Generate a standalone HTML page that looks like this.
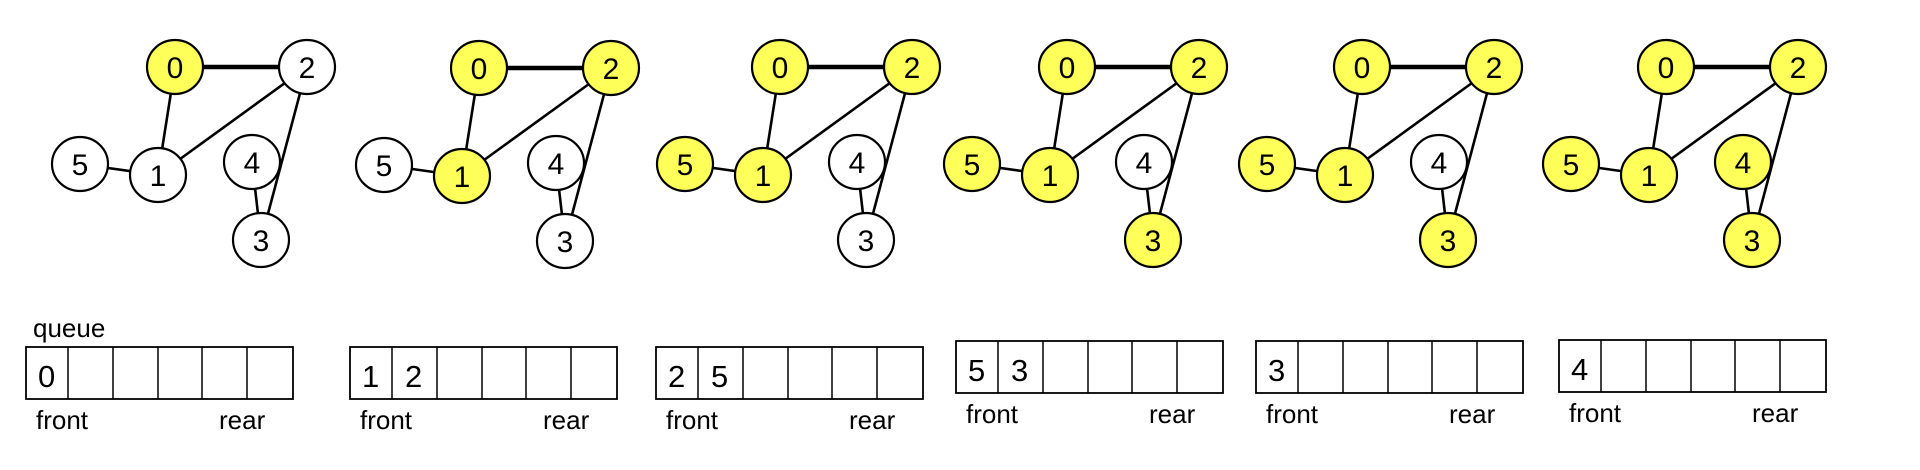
<!DOCTYPE html>
<html><head><meta charset="utf-8"><style>
html,body{margin:0;padding:0;background:#fff;}
svg{display:block;}
text{font-family:"Liberation Sans",sans-serif;fill:#000;}
.n text{font-size:30px;text-anchor:middle;}
.e line{stroke:#000;stroke-width:2.6;}
.e line.t{stroke-width:4.5;}
ellipse{stroke:#000;stroke-width:2.2;}
.w{fill:#fff;} .y{fill:#ffff59;}
.q rect{fill:none;stroke:#000;stroke-width:1.8;}
.q line{stroke:#000;stroke-width:1.5;}
.lbl{font-size:26px;}
.qd{font-size:31px;}
</style></head><body>
<svg width="1920" height="470" viewBox="0 0 1920 470" xmlns="http://www.w3.org/2000/svg">
<defs>
<g id="edges" class="e">
<line class="t" x1="175" y1="67" x2="307" y2="67"/>
<line x1="175" y1="67" x2="158" y2="175"/>
<line x1="307" y1="67" x2="158" y2="175"/>
<line x1="158" y1="175" x2="80" y2="164"/>
<line x1="307" y1="67" x2="261" y2="240"/>
<line x1="252" y1="162" x2="261" y2="240"/>
</g>
<g id="qbox" class="q">
<rect x="0" y="0" width="267" height="52"/>
<line x1="42" y1="0" x2="42" y2="52"/>
<line x1="87" y1="0" x2="87" y2="52"/>
<line x1="132" y1="0" x2="132" y2="52"/>
<line x1="176" y1="0" x2="176" y2="52"/>
<line x1="221" y1="0" x2="221" y2="52"/>
</g>
</defs>

<g transform="translate(0,0)">
<use href="#edges"/>
<g class="n">
<ellipse class="y" cx="175" cy="67" rx="28" ry="27"/><text x="175" y="78">0</text>
<ellipse class="w" cx="307" cy="67" rx="28" ry="27"/><text x="307" y="78">2</text>
<ellipse class="w" cx="158" cy="175" rx="28" ry="27"/><text x="158" y="186">1</text>
<ellipse class="w" cx="252" cy="162" rx="28" ry="27"/><text x="252" y="173">4</text>
<ellipse class="w" cx="261" cy="240" rx="28" ry="27"/><text x="261" y="251">3</text>
<ellipse class="w" cx="80" cy="164" rx="28" ry="27"/><text x="80" y="175">5</text>
</g>
</g>
<g transform="translate(304,1)">
<use href="#edges"/>
<g class="n">
<ellipse class="y" cx="175" cy="67" rx="28" ry="27"/><text x="175" y="78">0</text>
<ellipse class="y" cx="307" cy="67" rx="28" ry="27"/><text x="307" y="78">2</text>
<ellipse class="y" cx="158" cy="175" rx="28" ry="27"/><text x="158" y="186">1</text>
<ellipse class="w" cx="252" cy="162" rx="28" ry="27"/><text x="252" y="173">4</text>
<ellipse class="w" cx="261" cy="240" rx="28" ry="27"/><text x="261" y="251">3</text>
<ellipse class="w" cx="80" cy="164" rx="28" ry="27"/><text x="80" y="175">5</text>
</g>
</g>
<g transform="translate(605,0)">
<use href="#edges"/>
<g class="n">
<ellipse class="y" cx="175" cy="67" rx="28" ry="27"/><text x="175" y="78">0</text>
<ellipse class="y" cx="307" cy="67" rx="28" ry="27"/><text x="307" y="78">2</text>
<ellipse class="y" cx="158" cy="175" rx="28" ry="27"/><text x="158" y="186">1</text>
<ellipse class="w" cx="252" cy="162" rx="28" ry="27"/><text x="252" y="173">4</text>
<ellipse class="w" cx="261" cy="240" rx="28" ry="27"/><text x="261" y="251">3</text>
<ellipse class="y" cx="80" cy="164" rx="28" ry="27"/><text x="80" y="175">5</text>
</g>
</g>
<g transform="translate(892,0)">
<use href="#edges"/>
<g class="n">
<ellipse class="y" cx="175" cy="67" rx="28" ry="27"/><text x="175" y="78">0</text>
<ellipse class="y" cx="307" cy="67" rx="28" ry="27"/><text x="307" y="78">2</text>
<ellipse class="y" cx="158" cy="175" rx="28" ry="27"/><text x="158" y="186">1</text>
<ellipse class="w" cx="252" cy="162" rx="28" ry="27"/><text x="252" y="173">4</text>
<ellipse class="y" cx="261" cy="240" rx="28" ry="27"/><text x="261" y="251">3</text>
<ellipse class="y" cx="80" cy="164" rx="28" ry="27"/><text x="80" y="175">5</text>
</g>
</g>
<g transform="translate(1187,0)">
<use href="#edges"/>
<g class="n">
<ellipse class="y" cx="175" cy="67" rx="28" ry="27"/><text x="175" y="78">0</text>
<ellipse class="y" cx="307" cy="67" rx="28" ry="27"/><text x="307" y="78">2</text>
<ellipse class="y" cx="158" cy="175" rx="28" ry="27"/><text x="158" y="186">1</text>
<ellipse class="w" cx="252" cy="162" rx="28" ry="27"/><text x="252" y="173">4</text>
<ellipse class="y" cx="261" cy="240" rx="28" ry="27"/><text x="261" y="251">3</text>
<ellipse class="y" cx="80" cy="164" rx="28" ry="27"/><text x="80" y="175">5</text>
</g>
</g>
<g transform="translate(1491,0)">
<use href="#edges"/>
<g class="n">
<ellipse class="y" cx="175" cy="67" rx="28" ry="27"/><text x="175" y="78">0</text>
<ellipse class="y" cx="307" cy="67" rx="28" ry="27"/><text x="307" y="78">2</text>
<ellipse class="y" cx="158" cy="175" rx="28" ry="27"/><text x="158" y="186">1</text>
<ellipse class="y" cx="252" cy="162" rx="28" ry="27"/><text x="252" y="173">4</text>
<ellipse class="y" cx="261" cy="240" rx="28" ry="27"/><text x="261" y="251">3</text>
<ellipse class="y" cx="80" cy="164" rx="28" ry="27"/><text x="80" y="175">5</text>
</g>
</g>

<text class="lbl" x="33" y="337">queue</text>

<g transform="translate(26,347)">
<use href="#qbox"/>
<text class="qd" x="12" y="40">0</text>
<text class="lbl" x="10" y="82">front</text>
<text class="lbl" x="193" y="82">rear</text>
</g>
<g transform="translate(350,347)">
<use href="#qbox"/>
<text class="qd" x="12" y="40">1</text>
<text class="qd" x="55" y="40">2</text>
<text class="lbl" x="10" y="82">front</text>
<text class="lbl" x="193" y="82">rear</text>
</g>
<g transform="translate(656,347)">
<use href="#qbox"/>
<text class="qd" x="12" y="40">2</text>
<text class="qd" x="55" y="40">5</text>
<text class="lbl" x="10" y="82">front</text>
<text class="lbl" x="193" y="82">rear</text>
</g>
<g transform="translate(956,341)">
<use href="#qbox"/>
<text class="qd" x="12" y="40">5</text>
<text class="qd" x="55" y="40">3</text>
<text class="lbl" x="10" y="82">front</text>
<text class="lbl" x="193" y="82">rear</text>
</g>
<g transform="translate(1256,341)">
<use href="#qbox"/>
<text class="qd" x="12" y="40">3</text>
<text class="lbl" x="10" y="82">front</text>
<text class="lbl" x="193" y="82">rear</text>
</g>
<g transform="translate(1559,340)">
<use href="#qbox"/>
<text class="qd" x="12" y="40">4</text>
<text class="lbl" x="10" y="82">front</text>
<text class="lbl" x="193" y="82">rear</text>
</g>
</svg>
</body></html>
